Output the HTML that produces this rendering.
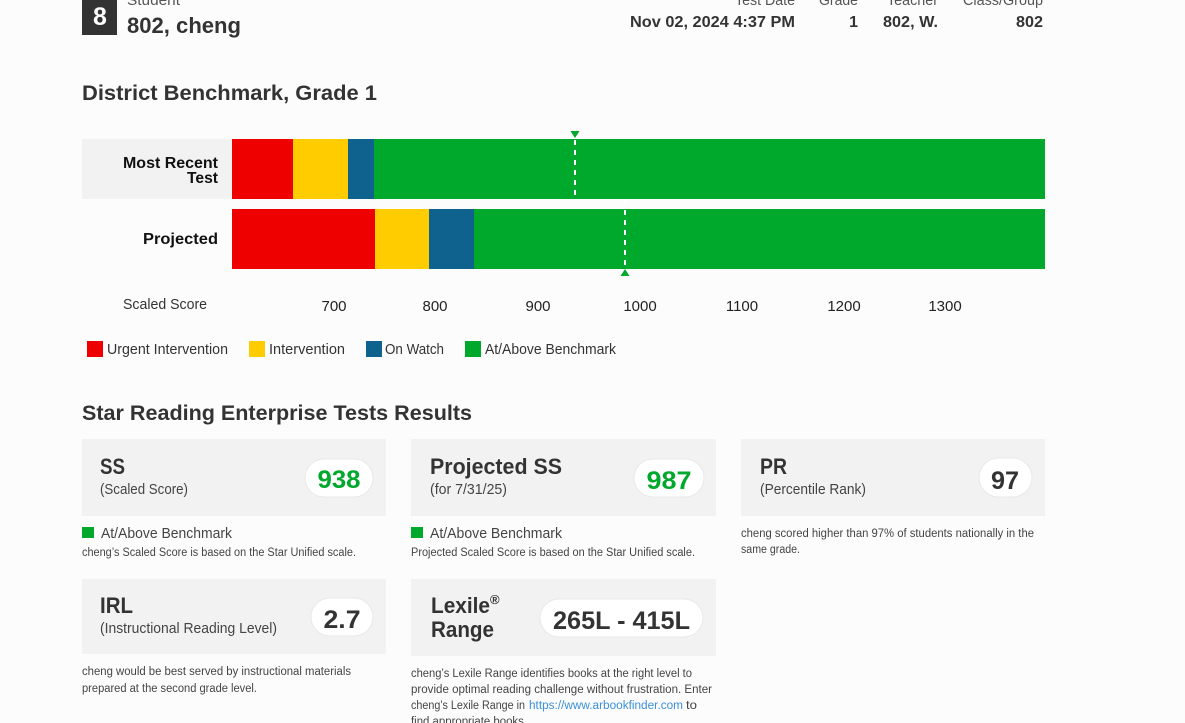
<!DOCTYPE html>
<html><head><meta charset="utf-8"><style>
html,body{margin:0;padding:0;background:#fcfcfc;width:1185px;height:723px;overflow:hidden}
svg{display:block}
text{font-family:"Liberation Sans",Arial,sans-serif}
</style></head><body>
<svg width="1185" height="723" viewBox="0 0 1185 723" xmlns="http://www.w3.org/2000/svg">
<rect width="1185" height="723" fill="#fcfcfc"/>
<!-- header -->
<rect x="82" y="0" width="35" height="35" fill="#333"/>
<text x="100" y="25" text-anchor="middle" font-size="25" font-weight="bold" fill="#fff">8</text>
<text x="127" y="5" font-size="15" fill="#555" textLength="53" lengthAdjust="spacingAndGlyphs">Student</text>
<text x="127" y="33" font-size="22" font-weight="bold" fill="#333" textLength="114" lengthAdjust="spacingAndGlyphs">802, cheng</text>
<g font-size="15" fill="#555">
<text x="735" y="5" textLength="60" lengthAdjust="spacingAndGlyphs">Test Date</text>
<text x="819" y="5" textLength="39" lengthAdjust="spacingAndGlyphs">Grade</text>
<text x="887" y="5" textLength="51" lengthAdjust="spacingAndGlyphs">Teacher</text>
<text x="963" y="5" textLength="80" lengthAdjust="spacingAndGlyphs">Class/Group</text>
</g>
<g font-size="16" font-weight="bold" fill="#333">
<text x="630" y="27" textLength="165" lengthAdjust="spacingAndGlyphs">Nov 02, 2024 4:37 PM</text>
<text x="858" y="27" text-anchor="end">1</text>
<text x="883" y="27" textLength="55" lengthAdjust="spacingAndGlyphs">802, W.</text>
<text x="1016" y="27" textLength="27" lengthAdjust="spacingAndGlyphs">802</text>
</g>
<text x="82" y="100" font-size="21" font-weight="bold" fill="#333" textLength="295" lengthAdjust="spacingAndGlyphs">District Benchmark, Grade 1</text>

<!-- chart -->
<rect x="82" y="139" width="150" height="60" fill="#f2f2f2"/>
<rect x="232" y="139" width="61" height="60" fill="#ee0000"/>
<rect x="293" y="139" width="55" height="60" fill="#ffcc00"/>
<rect x="348" y="139" width="26" height="60" fill="#0f628e"/>
<rect x="374" y="139" width="671" height="60" fill="#00a82c"/>
<rect x="232" y="209" width="143" height="60" fill="#ee0000"/>
<rect x="375" y="209" width="54" height="60" fill="#ffcc00"/>
<rect x="429" y="209" width="45" height="60" fill="#0f628e"/>
<rect x="474" y="209" width="571" height="60" fill="#00a82c"/>
<g font-size="16" font-weight="bold" fill="#111">
<text x="123" y="168" textLength="95" lengthAdjust="spacingAndGlyphs">Most Recent</text>
<text x="187" y="183" textLength="31" lengthAdjust="spacingAndGlyphs">Test</text>
<text x="143" y="244" textLength="75" lengthAdjust="spacingAndGlyphs">Projected</text>
</g>
<line x1="575" y1="140" x2="575" y2="196" stroke="#fff" stroke-width="2" stroke-dasharray="5,5"/>
<polygon points="570.5,131 579.5,131 575,138" fill="#00a82c"/>
<line x1="625" y1="200" x2="625" y2="268" stroke="#fff" stroke-width="2" stroke-dasharray="5,5"/>
<polygon points="620.5,276 629.5,276 625,269" fill="#00a82c"/>
<text x="123" y="309" font-size="15" fill="#333" textLength="84" lengthAdjust="spacingAndGlyphs">Scaled Score</text>
<g font-size="15" fill="#222" text-anchor="middle">
<text x="334" y="311">700</text>
<text x="435" y="311">800</text>
<text x="538" y="311">900</text>
<text x="640" y="311">1000</text>
<text x="742" y="311">1100</text>
<text x="844" y="311">1200</text>
<text x="945" y="311">1300</text>
</g>
<rect x="87" y="341" width="16" height="16" fill="#ee0000"/>
<rect x="249" y="341" width="16" height="16" fill="#ffcc00"/>
<rect x="366" y="341" width="16" height="16" fill="#0f628e"/>
<rect x="465" y="341" width="16" height="16" fill="#00a82c"/>
<g font-size="15" fill="#333">
<text x="107" y="354" textLength="121" lengthAdjust="spacingAndGlyphs">Urgent Intervention</text>
<text x="269" y="354" textLength="76" lengthAdjust="spacingAndGlyphs">Intervention</text>
<text x="385" y="354" textLength="59" lengthAdjust="spacingAndGlyphs">On Watch</text>
<text x="485" y="354" textLength="131" lengthAdjust="spacingAndGlyphs">At/Above Benchmark</text>
</g>

<text x="82" y="420" font-size="21" font-weight="bold" fill="#333" textLength="390" lengthAdjust="spacingAndGlyphs">Star Reading Enterprise Tests Results</text>

<!-- cards row 1 -->
<rect x="82" y="439" width="304" height="77" fill="#f2f2f2"/>
<rect x="411" y="439" width="305" height="77" fill="#f2f2f2"/>
<rect x="741" y="439" width="304" height="77" fill="#f2f2f2"/>
<g font-size="22" font-weight="bold" fill="#333">
<text x="100" y="474" textLength="25" lengthAdjust="spacingAndGlyphs">SS</text>
<text x="430" y="474" textLength="132" lengthAdjust="spacingAndGlyphs">Projected SS</text>
<text x="760" y="474" textLength="27" lengthAdjust="spacingAndGlyphs">PR</text>
</g>
<g font-size="15" fill="#444">
<text x="100" y="494" textLength="88" lengthAdjust="spacingAndGlyphs">(Scaled Score)</text>
<text x="430" y="494" textLength="77" lengthAdjust="spacingAndGlyphs">(for 7/31/25)</text>
<text x="760" y="494" textLength="106" lengthAdjust="spacingAndGlyphs">(Percentile Rank)</text>
</g>
<rect x="305" y="459" width="68" height="38" rx="19" fill="#fff" stroke="#e8e8e8"/>
<rect x="634" y="459" width="70" height="38" rx="19" fill="#fff" stroke="#e8e8e8"/>
<rect x="979" y="458" width="53" height="39" rx="19.5" fill="#fff" stroke="#e8e8e8"/>
<g font-size="25" font-weight="bold" text-anchor="middle">
<text x="339" y="488" fill="#00a82c" textLength="43" lengthAdjust="spacingAndGlyphs">938</text>
<text x="669" y="489" fill="#00a82c" textLength="45" lengthAdjust="spacingAndGlyphs">987</text>
<text x="1005" y="489" fill="#333" textLength="28" lengthAdjust="spacingAndGlyphs">97</text>
</g>
<rect x="82" y="527" width="12" height="11" fill="#00a82c"/>
<rect x="411" y="527" width="12" height="11" fill="#00a82c"/>
<g font-size="14.5" fill="#444">
<text x="101" y="538" textLength="131" lengthAdjust="spacingAndGlyphs">At/Above Benchmark</text>
<text x="430" y="538" textLength="132" lengthAdjust="spacingAndGlyphs">At/Above Benchmark</text>
</g>
<g font-size="11.5" fill="#444">
<text x="82" y="556" textLength="274" lengthAdjust="spacingAndGlyphs">cheng’s Scaled Score is based on the Star Unified scale.</text>
<text x="411" y="556" textLength="284" lengthAdjust="spacingAndGlyphs">Projected Scaled Score is based on the Star Unified scale.</text>
<text x="741" y="537" textLength="293" lengthAdjust="spacingAndGlyphs">cheng scored higher than 97% of students nationally in the</text>
<text x="741" y="553" textLength="59" lengthAdjust="spacingAndGlyphs">same grade.</text>
</g>

<!-- cards row 2 -->
<rect x="82" y="579" width="304" height="75" fill="#f2f2f2"/>
<rect x="411" y="579" width="305" height="77" fill="#f2f2f2"/>
<g font-size="22" font-weight="bold" fill="#333">
<text x="100" y="613" textLength="33" lengthAdjust="spacingAndGlyphs">IRL</text>
<text x="431" y="613" textLength="59" lengthAdjust="spacingAndGlyphs">Lexile</text>
<text x="431" y="637" textLength="63" lengthAdjust="spacingAndGlyphs">Range</text>
</g>
<text x="490" y="604" font-size="13" font-weight="bold" fill="#333">®</text>
<text x="100" y="633" font-size="15" fill="#444" textLength="177" lengthAdjust="spacingAndGlyphs">(Instructional Reading Level)</text>
<rect x="311" y="598" width="62" height="38" rx="19" fill="#fff" stroke="#e8e8e8"/>
<rect x="540" y="599" width="163" height="38" rx="19" fill="#fff" stroke="#e8e8e8"/>
<g font-size="25" font-weight="bold" fill="#333">
<text x="342" y="628" text-anchor="middle" textLength="37" lengthAdjust="spacingAndGlyphs">2.7</text>
<text x="553" y="629" textLength="137" lengthAdjust="spacingAndGlyphs">265L - 415L</text>
</g>
<g font-size="11.5" fill="#444">
<text x="82" y="675" textLength="269" lengthAdjust="spacingAndGlyphs">cheng would be best served by instructional materials</text>
<text x="82" y="692" textLength="175" lengthAdjust="spacingAndGlyphs">prepared at the second grade level.</text>
<text x="411" y="677" textLength="281" lengthAdjust="spacingAndGlyphs">cheng’s Lexile Range identifies books at the right level to</text>
<text x="411" y="693" textLength="301" lengthAdjust="spacingAndGlyphs">provide optimal reading challenge without frustration. Enter</text>
<text x="411" y="709" textLength="114" lengthAdjust="spacingAndGlyphs">cheng’s Lexile Range in</text>
<text x="529" y="709" fill="#3b8fd9" textLength="154" lengthAdjust="spacingAndGlyphs">https://www.arbookfinder.com</text>
<text x="686" y="709" textLength="11" lengthAdjust="spacingAndGlyphs">to</text>
<text x="411" y="725" textLength="116" lengthAdjust="spacingAndGlyphs">find appropriate books.</text>
</g>
</svg>
</body></html>
